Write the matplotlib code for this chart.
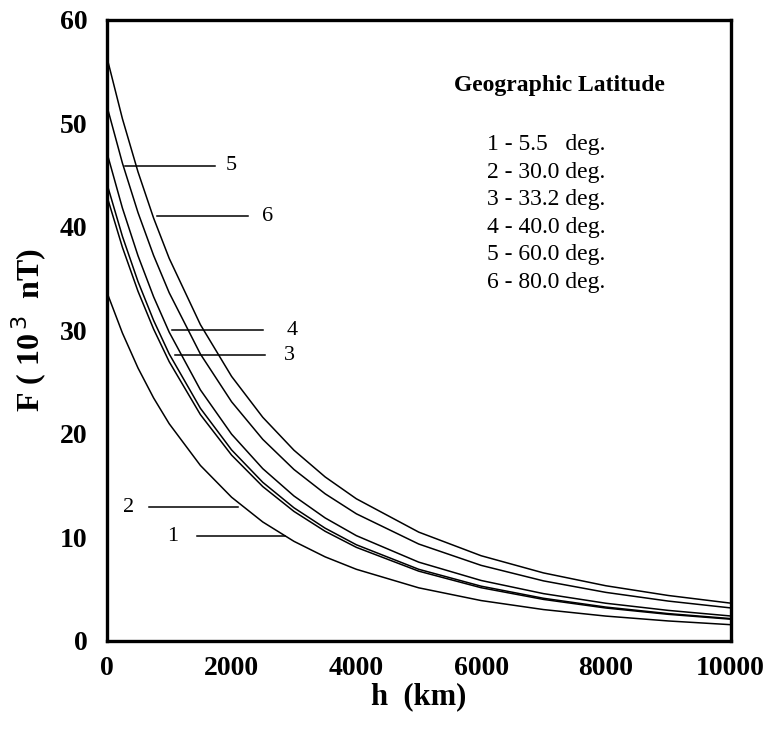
import matplotlib
matplotlib.use('Agg')
import matplotlib.pyplot as plt

# altitude grid (km) and total field F (10^3 nT)
h = [0, 250, 500, 750, 1000, 1500, 2000, 2500, 3000, 3500, 4000,
     5000, 6000, 7000, 8000, 9000, 10000]
f1 = [33.7, 29.74, 26.36, 23.47, 20.98, 16.95, 13.88, 11.49, 9.62, 8.12, 6.92,
      5.13, 3.90, 3.03, 2.40, 1.93, 1.57]
f2 = [43.0, 38.02, 33.77, 30.12, 26.97, 21.86, 17.95, 14.91, 12.51, 10.59, 9.04,
      6.74, 5.14, 4.01, 3.18, 2.57, 2.10]
f3 = [44.2, 39.08, 34.71, 30.96, 27.72, 22.47, 18.45, 15.32, 12.86, 10.89, 9.29,
      6.92, 5.29, 4.12, 3.27, 2.64, 2.16]
f4 = [47.2, 41.81, 37.20, 33.24, 29.82, 24.25, 19.97, 16.64, 14.00, 11.88, 10.17,
      7.61, 5.84, 4.57, 3.64, 2.95, 2.41]
f5 = [51.7, 46.15, 41.37, 37.23, 33.63, 27.71, 23.10, 19.47, 16.56, 14.21, 12.28,
      9.36, 7.30, 5.80, 4.69, 3.85, 3.19]
f6 = [56.4, 50.44, 45.30, 40.84, 36.95, 30.55, 25.55, 21.60, 18.42, 15.84, 13.73,
      10.51, 8.23, 6.57, 5.33, 4.39, 3.65]
curves = [f1, f2, f3, f4, f5, f6]

legend_title = 'Geographic Latitude'
legend_rows = ['1 - 5.5   deg.', '2 - 30.0 deg.', '3 - 33.2 deg.',
               '4 - 40.0 deg.', '5 - 60.0 deg.', '6 - 80.0 deg.']

# curve label leader lines: (label, y, x_start, x_end, x_text)
labels = [('5', 45.9, 290, 1730, 2000),
          ('6', 41.0, 800, 2260, 2580),
          ('4', 30.0, 1040, 2500, 2965),
          ('3', 27.6, 1090, 2530, 2930),
          ('2', 12.9, 670, 2100, 350),
          ('1', 10.1, 1440, 2850, 1060)]

plt.rcParams['font.family'] = ['Liberation Serif', 'DejaVu Serif']

fig = plt.figure(figsize=(7.74, 7.30), dpi=100)
ax = fig.add_axes([0.138, 0.122, 0.806, 0.851])

for f in curves:
    ax.plot(h, f, color='black', lw=1.1)

for lab, y, x0, x1, xt in labels:
    ax.plot([x0, x1], [y, y], color='black', lw=1.1)
    ax.text(xt, y, lab, fontsize=16, ha='center', va='center')

ax.text(0.726, 0.894, legend_title, transform=ax.transAxes, fontsize=17,
        fontweight='bold', ha='center', va='center')
for i, row in enumerate(legend_rows):
    ax.text(0.609, 0.799 - i * 0.0444, row, transform=ax.transAxes,
            fontsize=17, ha='left', va='center')

ax.set_xlim(0, 10000)
ax.set_ylim(0, 60)
ax.set_xticks([0, 2000, 4000, 6000, 8000, 10000])
ax.set_yticks([0, 10, 20, 30, 40, 50, 60])
ax.tick_params(length=0, labelsize=20)
ax.tick_params(axis='y', pad=14)
ax.tick_params(axis='x', pad=11)
for t in ax.get_xticklabels() + ax.get_yticklabels():
    t.set_fontweight('bold')
for s in ax.spines.values():
    s.set_linewidth(2.4)

ax.set_xlabel('h  (km)', fontsize=22, fontweight='bold', labelpad=1)
ax.set_ylabel('F ( 10$^{\\,3}$  nT)', fontsize=23, fontweight='bold', labelpad=8)

fig.savefig('out.png', dpi=100)
